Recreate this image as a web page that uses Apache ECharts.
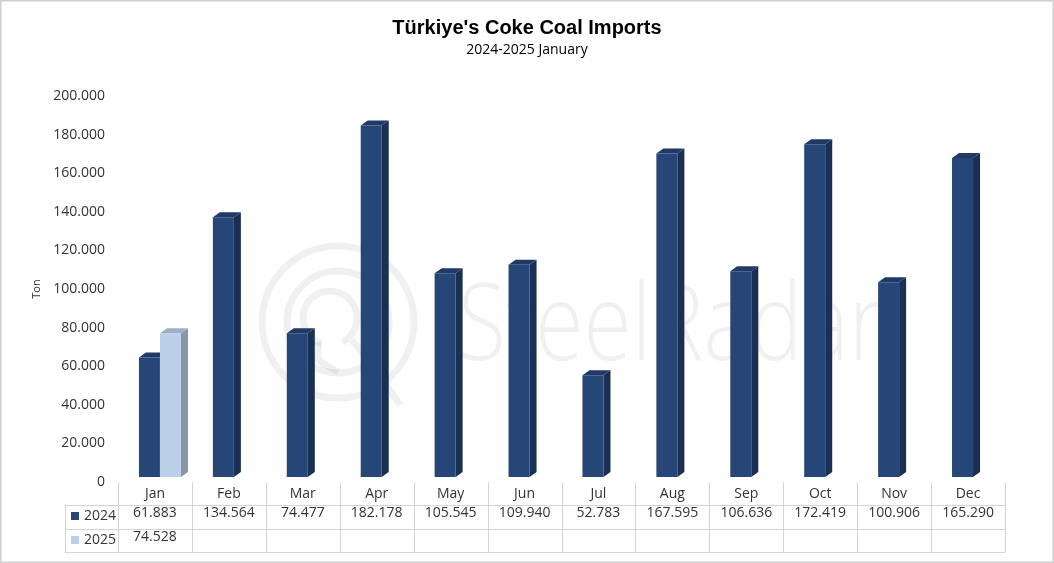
<!DOCTYPE html>
<html><head><meta charset="utf-8">
<script src="https://cdn.jsdelivr.net/npm/echarts@6/dist/echarts.min.js"></script>
<style>html,body{margin:0;padding:0;background:#fff}#c{width:1054px;height:563px}</style>
</head><body><div id="c"></div>
<script>
const categories = ['Jan','Feb','Mar','Apr','May','Jun','Jul','Aug','Sep','Oct','Nov','Dec'];
const values2024 = [61883,134564,74477,182178,105545,109940,52783,167595,106636,172419,100906,165290];
const values2025 = [74528,null,null,null,null,null,null,null,null,null,null,null];
const seriesNames = ['2024','2025'];
const yMin = 0, yMax = 200000, yInterval = 20000;

const FONT = 'Open Sans';
const TXT = '#333333';
const GRID = {left:118, right:49, top:96, bottom:81};

function fmt(v){ return (v===null||v===undefined) ? '' : String(v).replace(/\B(?=(\d{3})+(?!\d))/g,'.'); }

const styles = [
  {front:'#264677', side:'#1a2f53', top:'#1f3a66'},
  {front:'#bdd0ea', side:'#8896a8', top:'#9eaec4'}
];
const slotOffset = [-0.2165, 0.0677];
const BAR_W = 0.284, DEPTH_X = 0.095, DEPTH_Y = 5, LIFT = 5;

function make3D(slot){
  const c = styles[slot];
  return function(params, api){
    const v = api.value(1);
    if (v === null || v === undefined || isNaN(v)) return null;
    const idx = api.value(0);
    const band = api.size([1,0])[0];
    const p0 = api.coord([idx, 0]);
    const p1 = api.coord([idx, v]);
    const w = band*BAR_W, dx = band*DEPTH_X, dy = DEPTH_Y;
    const left = p0[0] + band*slotOffset[slot];
    const bottom = p0[1]-LIFT, top = p1[1]-LIFT;
    return {type:'group', children:[
      {type:'polygon', shape:{points:[[left+w,bottom],[left+w+dx,bottom-dy],[left+w+dx,top-dy],[left+w,top]]}, style:{fill:c.side}},
      {type:'polygon', shape:{points:[[left,top],[left+dx,top-dy],[left+w+dx,top-dy],[left+w,top]]}, style:{fill:c.top}},
      {type:'rect', shape:{x:left,y:top,width:w,height:bottom-top}, style:{fill:c.front}}
    ]};
  };
}

const chart = echarts.init(document.getElementById('c'), null, {renderer:'canvas'});

const W = 1054, H = 563;
const gx0 = GRID.left, gx1 = W-GRID.right, gy = H-GRID.bottom;
const colW = (gx1-gx0)/categories.length;
const rowY = [505, 529, 552];
const lineStyle = {stroke:'#d4d4d4', lineWidth:1};
const graphics = [];
// watermark
const WM = 'rgba(0,0,0,0.06)';
graphics.push({type:'text', x:458, y:330, scaleX:0.82, silent:true, z:-10,
  style:{text:'SteelRadar', font:'300 107px "Open Sans"', fill:WM, verticalAlign:'middle', align:'left'}});
[[76,7],[51,7]].forEach(([r,lw])=>{
  graphics.push({type:'circle', silent:true, z:-10, shape:{cx:338,cy:322,r:r}, style:{fill:'none', stroke:WM, lineWidth:lw}});
});
graphics.push({type:'arc', silent:true, z:-10, shape:{cx:330,cy:318,r:27,startAngle:Math.PI*0.6,endAngle:Math.PI*2.35}, style:{fill:'none', stroke:WM, lineWidth:7}});
graphics.push({type:'polyline', silent:true, z:-10, shape:{points:[[318,342],[318,360],[338,372]]}, style:{fill:'none', stroke:WM, lineWidth:7}});
graphics.push({type:'polyline', silent:true, z:-10, shape:{points:[[352,340],[375,368],[400,405]]}, style:{fill:'none', stroke:WM, lineWidth:7}});
rowY.forEach(y=>graphics.push({type:'line', silent:true, shape:{x1:65,y1:y+0.5,x2:gx1,y2:y+0.5}, style:lineStyle}));
graphics.push({type:'line', silent:true, shape:{x1:65.5,y1:rowY[0],x2:65.5,y2:rowY[2]}, style:lineStyle});
for(let i=0;i<=categories.length;i++){
  const x = Math.round(gx0+i*colW)+0.5;
  graphics.push({type:'line', silent:true, shape:{x1:x,y1:gy,x2:x,y2:rowY[2]}, style:lineStyle});
}
graphics.push({type:'rect', silent:true, shape:{x:0.75,y:0.75,width:W-1.5,height:H-1.5}, style:{fill:'none', stroke:'#cfcfcf', lineWidth:1.5}});

const tableAxis = (arr, offset) => ({
  type:'category', data:categories, position:'bottom', offset:offset,
  axisLine:{show:false}, axisTick:{show:false},
  axisLabel:{interval:0, margin:4, fontSize:14, color:TXT, fontFamily:FONT,
    formatter:(val, idx)=>fmt(arr[idx])}
});

chart.setOption({
  animation:false,
  backgroundColor:'#fff',
  title:{
    text:"Türkiye's Coke Coal Imports", subtext:'2024-2025 January',
    left:'center', top:13, itemGap:5,
    textStyle:{fontFamily:'Liberation Sans', fontWeight:'bold', fontSize:20, color:'#000'},
    subtextStyle:{fontFamily:FONT, fontSize:14, color:'#000'}
  },
  legend:{
    data:seriesNames, orient:'vertical', left:71, top:509, padding:0, itemWidth:8, itemHeight:8, itemGap:10,
    icon:'rect', selectedMode:false,
    textStyle:{fontSize:14, color:TXT, fontFamily:FONT}
  },
  grid:{left:GRID.left, right:GRID.right, top:GRID.top, bottom:GRID.bottom, containLabel:false},
  xAxis:[
    {type:'category', data:categories, position:'bottom',
      axisLine:{show:false}, axisTick:{show:false},
      axisLabel:{interval:0, margin:5, fontSize:14, color:TXT, fontFamily:FONT}},
    tableAxis(values2024, 20),
    tableAxis(values2025, 44)
  ],
  yAxis:{
    type:'value', min:yMin, max:yMax, interval:yInterval,
    name:'Ton', nameLocation:'middle', nameGap:76, nameRotate:90,
    nameTextStyle:{fontSize:11, color:TXT, fontFamily:FONT},
    axisLine:{show:false}, axisTick:{show:false}, splitLine:{show:false},
    axisLabel:{margin:13, fontSize:14, color:TXT, fontFamily:FONT, formatter:v=>fmt(v)}
  },
  graphic:graphics,
  series:[
    {name:seriesNames[0], type:'custom', xAxisIndex:0, renderItem:make3D(0), itemStyle:{color:styles[0].front},
      encode:{x:0,y:1}, data:values2024.map((v,i)=>[i,v])},
    {name:seriesNames[1], type:'custom', xAxisIndex:0, renderItem:make3D(1), itemStyle:{color:styles[1].front},
      encode:{x:0,y:1}, data:values2025.map((v,i)=>[i,v])}
  ]
});
</script></body></html>
